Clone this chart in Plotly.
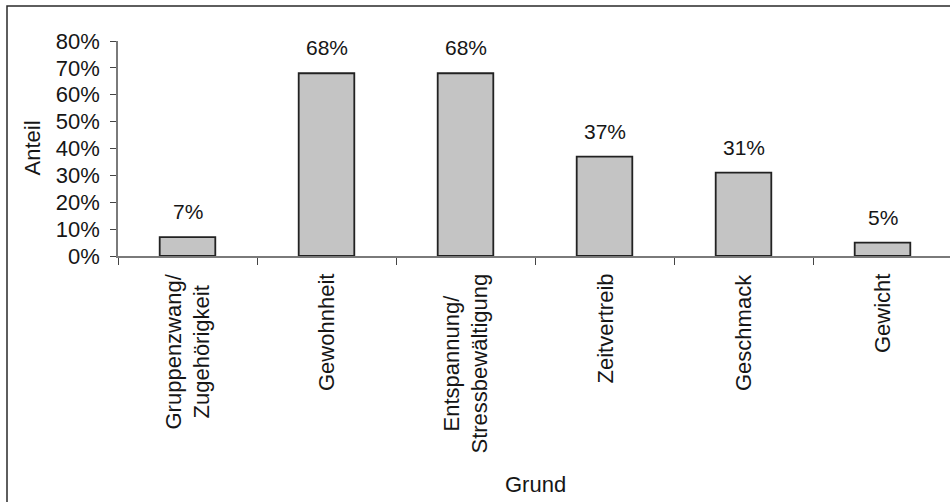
import plotly.graph_objects as go

# Reasons given (multi-line category labels) and their shares
categories = ["Gruppenzwang/<br>Zugehörigkeit", "Gewohnheit",
              "Entspannung/<br>Stressbewältigung", "Zeitvertreib",
              "Geschmack", "Gewicht"]
cat_keys = ["Gruppenzwang", "Gewohnheit", "Entspannung", "Zeitvertreib",
            "Geschmack", "Gewicht"]
shares = [0.07, 0.68, 0.68, 0.37, 0.31, 0.05]
y_ticks = [0.0, 0.1, 0.2, 0.3, 0.4, 0.5, 0.6, 0.7, 0.8]

FONT = "Liberation Sans, Arial, sans-serif"
TXT = "#161616"
W, H = 950, 502
L, R, T, B = 118, 0, 41, 246
PW, PH = W - L - R, H - T - B
CAT_PX = 139  # pixels per category


def px_x(p):
    return (p - L) / PW


def px_y(p):
    return (H - B - p) / PH


fig = go.Figure()
fig.add_trace(go.Bar(
    x=cat_keys, y=shares, width=0.4,
    marker=dict(color="#c4c4c4", line=dict(color="#222222", width=1.8)),
    hoverinfo="skip",
))

ann = []
# value labels above bars
for k, v in zip(cat_keys, shares):
    ann.append(dict(x=k, y=v, xref="x", yref="y", text=f"{v:.0%}",
                    showarrow=False, yanchor="bottom", yshift=12,
                    font=dict(family=FONT, size=21, color=TXT)))
# rotated category labels
for k, c in zip(cat_keys, categories):
    ann.append(dict(x=k, y=px_y(272), xref="x", yref="paper", text=c,
                    textangle=-90, showarrow=False, yanchor="top",
                    xanchor="center", align="center",
                    font=dict(family=FONT, size=22, color=TXT)))
# axis titles
ann.append(dict(x=px_x(535), y=px_y(484), xref="paper", yref="paper",
                text="Grund", showarrow=False, xanchor="center",
                yanchor="middle", font=dict(family=FONT, size=22, color=TXT)))
ann.append(dict(x=px_x(32), y=0.5, xref="paper", yref="paper",
                text="Anteil", textangle=-90, showarrow=False,
                xanchor="center", yanchor="middle",
                font=dict(family=FONT, size=22, color=TXT)))

fig.update_layout(
    width=W, height=H,
    margin=dict(l=L, r=R, t=T, b=B, pad=0),
    paper_bgcolor="white", plot_bgcolor="white",
    showlegend=False,
    font=dict(family=FONT, size=22, color=TXT),
    annotations=ann,
    shapes=[dict(type="rect", xref="paper", yref="paper",
                 x0=px_x(7), x1=1.2, y0=-1.5, y1=px_y(6),
                 line=dict(color="#2a2a2a", width=1.5), layer="above")],
    xaxis=dict(
        type="category", range=[-0.5, -0.5 + PW / CAT_PX],
        showticklabels=False, ticks="outside", tickson="boundaries",
        ticklen=7, tickcolor="#444444", tickwidth=1,
        showline=True, linecolor="#7a7a7a", linewidth=1.5,
        showgrid=False, zeroline=False, fixedrange=True,
    ),
    yaxis=dict(
        range=[0, 0.8], tickvals=y_ticks, tickformat=".0%",
        ticks="outside", ticklen=6, tickcolor="#444444", tickwidth=1,
        showline=True, linecolor="#7a7a7a", linewidth=1.5,
        showgrid=False, zeroline=False, fixedrange=True,
        tickfont=dict(family=FONT, size=22, color=TXT),
        ticklabelstandoff=6,
    ),
)

fig.write_html("out.html")
